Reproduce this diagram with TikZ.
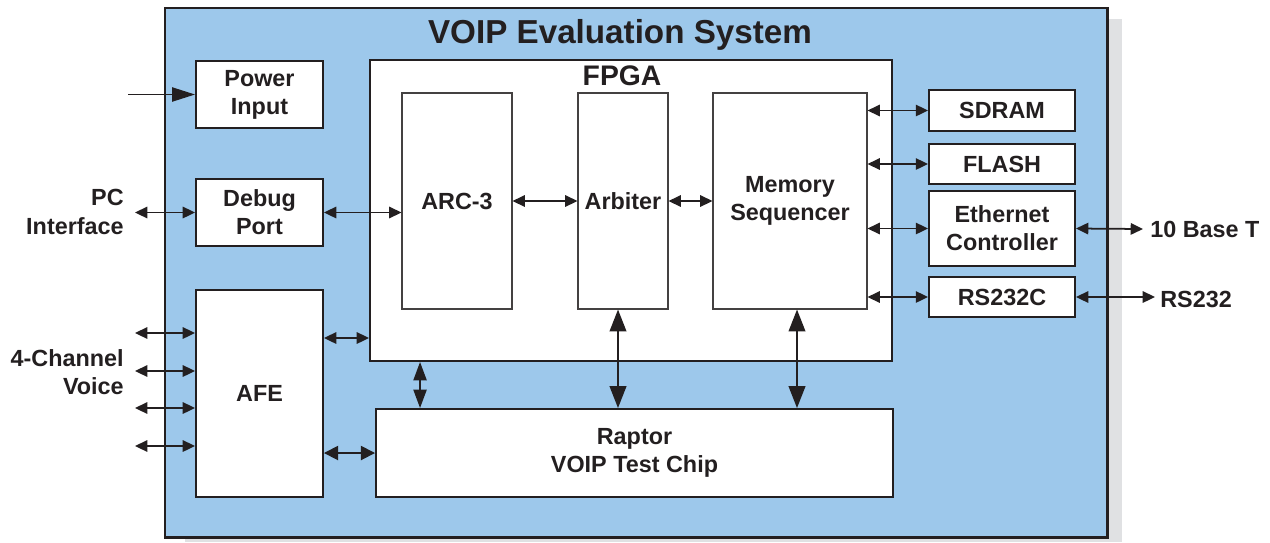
\documentclass[tikz,border=0pt]{standalone}
\usepackage{fontspec}
\setmainfont{Liberation Sans}
\usetikzlibrary{
    arrows.meta,
    calc,
    positioning
}
\definecolor{boardblue}{RGB}{157,200,235}
\definecolor{inkdark}{RGB}{35,31,32}
\definecolor{shadowgray}{RGB}{224,225,227}
\newdimen\px
\px=0.02cm

\tikzset{
    block/.style={draw=inkdark, fill=white, line width=1.1pt, align=center, inner sep=0pt,
        text=inkdark, font=\bfseries\fontsize{13.3}{16}\selectfont},
    subblock/.style={block, line width=0.6pt, draw=inkdark!85},
    outlabel/.style={align=right, text=inkdark, inner sep=0pt, font=\bfseries\fontsize{13.3}{16}\selectfont},
    link/.style={draw=inkdark, line width=1pt,
        {Triangle[length=7pt,width=6.5pt]}-{Triangle[length=7pt,width=6.5pt]}},
    widelink/.style={draw=inkdark, line width=1pt,
        {Triangle[length=8pt,width=8pt]}-{Triangle[length=8pt,width=8pt]}},
    buslink/.style={draw=inkdark, line width=1.1pt,
        {Triangle[length=12.5pt,width=9.5pt]}-{Triangle[length=12.5pt,width=9.5pt]}},
    feed/.style={draw=inkdark, line width=1pt, -{Triangle[length=13pt,width=8pt]}}
}

\begin{document}
\begin{tikzpicture}[x=0.02cm, y=-0.02cm]
    \useasboundingbox (0,0) rectangle (1270,542);

    % board with its shadow
    \fill[shadowgray] (185,19) rectangle (1122,542);
    \node[draw=inkdark, fill=boardblue, line width=1.7pt, minimum width=942\px, minimum height=529\px,
        inner sep=0pt] (board) at (636,272.5) {};
    \node[text=inkdark, font=\bfseries\fontsize{18.9}{22}\selectfont] (title) at (620,35) {VOIP Evaluation System};

    % left column
    \node[block, minimum width=127\px, minimum height=67\px] (power) at (259.5,94.5) {Power\\Input};
    \node[block, minimum width=127\px, minimum height=67\px] (debug) at (259.5,212.5) {Debug\\Port};
    \node[block, minimum width=127\px, minimum height=207\px] (afe) at (259.5,393.5) {AFE};

    % FPGA and its blocks
    \node[block, minimum width=522\px, minimum height=301\px] (fpga) at (631,210.5) {};
    \node[text=inkdark, inner sep=0pt, font=\bfseries\fontsize{16.1}{19}\selectfont] (fpgatitle) at (622,76) {FPGA};
    \node[subblock, minimum width=110\px, minimum height=216\px] (arc) at (457,201) {ARC-3};
    \node[subblock, minimum width=90\px, minimum height=216\px] (arb) at (623,201) {Arbiter};
    \node[subblock, minimum width=154\px, minimum height=216\px] (memseq) at (790,201) {Memory\\Sequencer};

    \node[block, minimum width=517\px, minimum height=88\px] (raptor) at (634.5,453) {Raptor\\VOIP Test Chip};

    % right column
    \node[block, minimum width=146\px, minimum height=41\px] (sdram) at (1002,110.5) {SDRAM};
    \node[block, minimum width=146\px, minimum height=40\px] (flash) at (1002,164) {FLASH};
    \node[block, minimum width=146\px, minimum height=75\px] (eth) at (1002,228.5) {Ethernet\\Controller};
    \node[block, minimum width=146\px, minimum height=40\px] (rs) at (1002,297) {RS232C};

    % outside labels
    \node[outlabel, anchor=east] (pclabel) at (124,212) {PC\\Interface};
    \node[outlabel, anchor=east] (voicelabel) at (124,372) {4-Channel\\Voice};
    \node[outlabel, anchor=west] (baselabel) at (1150,229) {10 Base T};
    \node[outlabel, anchor=west] (rslabel) at (1160,299) {RS232};

    \coordinate (powerin) at (128,94.5);
    \coordinate (pcend) at (135,212.5);
    \coordinate (baseend) at (1143,229);
    \coordinate (rsend) at (1155,297);
    \coordinate (afefpga) at (0,338);

    % connectors
    \draw[feed] (powerin) -- (power.west);
    \draw[link] (pcend) -- (debug.west);
    \draw[link] (debug.east) -- (debug.east -| arc.west);
    \draw[link] (arc.east) -- (arb.west);
    \draw[link] (arb.east) -- (memseq.west);
    \foreach \dev in {sdram,flash,eth,rs}
        \draw[link] (\dev.west -| memseq.east) -- (\dev.west);
    \draw[link] (eth.east) -- (baseend);
    \draw[link] (rs.east) -- (rsend);
    \foreach \y in {333,371,408,446} {
        \coordinate (voice\y) at (135,\y);
        \draw[link] (voice\y) -- (voice\y -| afe.west);
    }
    \draw[link] (afefpga -| afe.east) -- (afefpga -| fpga.west);
    \draw[widelink] (afe.east |- raptor.west) -- (raptor.west);
    \draw[link, {Triangle[length=10.5pt,width=7.5pt]}-{Triangle[length=10.5pt,width=7.5pt]}]
        ([xshift=51\px]fpga.south west) coordinate (ctl) -- (ctl |- raptor.north);
    \draw[buslink] ([xshift=-5\px]arb.south) coordinate (arbbus) -- (arbbus |- raptor.north);
    \draw[buslink] ([xshift=7\px]memseq.south) coordinate (membus) -- (membus |- raptor.north);
\end{tikzpicture}
\end{document}
